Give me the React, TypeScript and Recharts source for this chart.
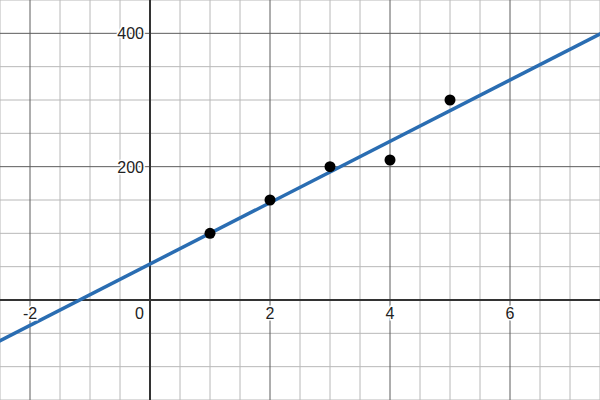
import { ComposedChart, Line, Scatter, XAxis, YAxis, ReferenceLine } from "recharts"

// observed points
const pointX = [1, 2, 3, 4, 5]
const pointY = [100, 150, 200, 210, 300]

// fitted line, read a little past both edges of the view
const lineX = [-3, 8]
const lineY = [-84, 422]

// grid and tick labels
const xMinor = [-2.5, -1.5, -1, -0.5, 0.5, 1, 1.5, 2.5, 3, 3.5, 4.5, 5, 5.5, 6.5, 7, 7.5]
const xMajor = [-2, 2, 4, 6]
const yMinor = [-150, -100, -50, 50, 100, 150, 250, 300, 350, 450]
const yMajor = [200, 400]
const xLabels = [-2, 0, 2, 4, 6]
const yLabels = [200, 400]

const points = pointX.map((x, i) => ({ x, y: pointY[i] }))
const fit = lineX.map((x, i) => ({ x, y: lineY[i] }))
const xLabelData = xLabels.map((x) => ({ x, y: 0 }))
const yLabelData = yLabels.map((y) => ({ x: 0, y }))

const font = "'Liberation Sans', Arial, sans-serif"

const XTick = (props: any) => {
  const { cx, cy, payload } = props
  const isZero = payload.x === 0
  return (
    <text
      x={isZero ? cx - 6 : cx}
      y={cy + 19}
      textAnchor={isZero ? "end" : "middle"}
      fontSize={16}
      fontFamily={font}
      fill="#222"
      stroke="#fff"
      strokeWidth={3}
      paintOrder="stroke"
    >
      {payload.x}
    </text>
  )
}

const YTick = (props: any) => {
  const { cx, cy, payload } = props
  return (
    <text
      x={cx - 6}
      y={cy + 6}
      textAnchor="end"
      fontSize={16}
      fontFamily={font}
      fill="#222"
      stroke="#fff"
      strokeWidth={3}
      paintOrder="stroke"
    >
      {payload.y}
    </text>
  )
}

const Dot = (props: any) => <circle cx={props.cx} cy={props.cy} r={5.5} fill="#000" />

export default function App() {
  return (
    <div style={{ position: "absolute", left: 0, top: 0, width: 600, height: 400, background: "#fff" }}>
      <ComposedChart width={600} height={400} margin={{ top: 0, right: 0, bottom: 0, left: 0 }}>
        <XAxis type="number" dataKey="x" domain={[-2.5, 7.5]} allowDataOverflow hide />
        <YAxis type="number" dataKey="y" domain={[-150, 450]} allowDataOverflow hide />

        {xMinor.map((v) => (
          <ReferenceLine key={"xm" + v} x={v} stroke="#b8b8b8" strokeWidth={1} />
        ))}
        {yMinor.map((v) => (
          <ReferenceLine key={"ym" + v} y={v} stroke="#b8b8b8" strokeWidth={1} />
        ))}
        {xMajor.map((v) => (
          <ReferenceLine key={"xM" + v} x={v} stroke="#5c5c5c" strokeWidth={1} />
        ))}
        {yMajor.map((v) => (
          <ReferenceLine key={"yM" + v} y={v} stroke="#5c5c5c" strokeWidth={1} />
        ))}
        <ReferenceLine x={0} stroke="#333" strokeWidth={2} />
        <ReferenceLine y={0} stroke="#333" strokeWidth={2} />

        <Line
          data={fit}
          dataKey="y"
          type="linear"
          stroke="#2a6db2"
          strokeWidth={3.5}
          dot={false}
          activeDot={false}
          isAnimationActive={false}
        />
        <Scatter data={points} dataKey="y" shape={Dot} isAnimationActive={false} />
        <Scatter data={xLabelData} dataKey="y" shape={XTick} isAnimationActive={false} />
        <Scatter data={yLabelData} dataKey="y" shape={YTick} isAnimationActive={false} />
      </ComposedChart>
    </div>
  )
}
